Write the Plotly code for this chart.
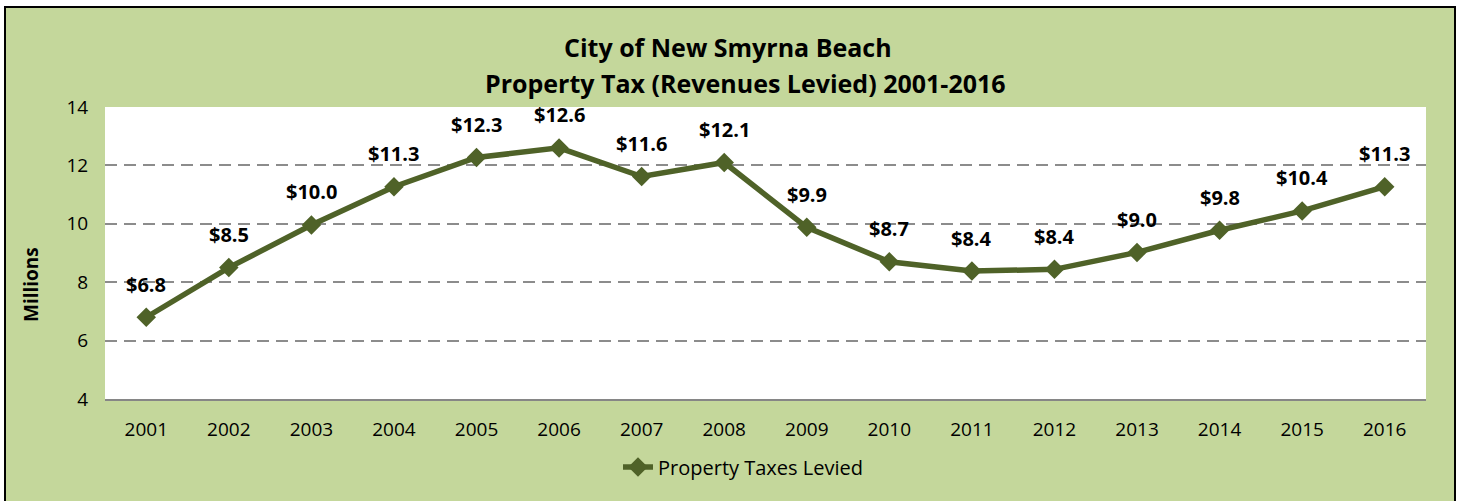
import plotly.graph_objects as go

years = ["2001", "2002", "2003", "2004", "2005", "2006", "2007", "2008",
         "2009", "2010", "2011", "2012", "2013", "2014", "2015", "2016"]
revenues = [6.8, 8.5, 9.96, 11.27, 12.27, 12.6, 11.62, 12.1,
            9.88, 8.7, 8.38, 8.44, 9.02, 9.78, 10.44, 11.27]
series_name = "Property Taxes Levied"
title_line1 = "City of New Smyrna Beach"
title_line2 = "Property Tax (Revenues Levied) 2001-2016"
y_title = "Millions"
y_ticks = [4, 6, 8, 10, 12, 14]

W, H = 1463, 501
L, R, T, B = 105, 37, 107, 102
pw, ph = W - L - R, H - T - B

def px_x(p):
    return (p - L) / pw

def px_y(p):
    return (H - B - p) / ph

GREEN_BG = "#C4D79B"
LINE = "#4F6228"
FONT = "Open Sans"

fig = go.Figure()
fig.add_trace(go.Scatter(
    x=years, y=revenues, name=series_name,
    mode="lines+markers",
    line=dict(color=LINE, width=5.5),
    marker=dict(symbol="diamond", size=15, color=LINE),
    cliponaxis=False,
))

shapes = [
    dict(type="rect", xref="paper", yref="paper",
         x0=px_x(5), x1=px_x(1455), y0=px_y(7), y1=px_y(515),
         fillcolor=GREEN_BG, line=dict(color="#000000", width=2), layer="below"),
    dict(type="rect", xref="paper", yref="paper",
         x0=0, x1=1, y0=0, y1=1,
         fillcolor="#FFFFFF", line=dict(width=0), layer="below"),
]

annotations = [
    dict(text=title_line1, xref="paper", yref="paper", x=px_x(728), y=px_y(47),
         showarrow=False, xanchor="center", yanchor="middle",
         font=dict(family=FONT, size=25, color="#000000", weight="bold")),
    dict(text=title_line2, xref="paper", yref="paper", x=px_x(745), y=px_y(83),
         showarrow=False, xanchor="center", yanchor="middle",
         font=dict(family=FONT, size=25, color="#000000", weight="bold")),
    dict(text=y_title, xref="paper", yref="paper", x=px_x(31), y=px_y(285),
         showarrow=False, xanchor="center", yanchor="middle", textangle=-90,
         font=dict(family=FONT, size=19, color="#000000", weight="bold")),
]

for i, val in enumerate(revenues):
    annotations.append(dict(
        x=i, y=val, xref="x", yref="y", text=f"${val:.1f}",
        showarrow=False, xanchor="center", yanchor="middle", yshift=33,
        font=dict(family=FONT, size=20, color="#000000", weight="bold"),
    ))

fig.update_layout(
    width=W, height=H,
    margin=dict(l=L, r=R, t=T, b=B, pad=0),
    paper_bgcolor="#FFFFFF",
    plot_bgcolor="#FFFFFF",
    shapes=shapes,
    annotations=annotations,
    showlegend=True,
    legend=dict(orientation="h", x=px_x(743), y=px_y(467), xanchor="center", yanchor="middle",
                bgcolor="rgba(0,0,0,0)",
                font=dict(family=FONT, size=20, color="#000000")),
    font=dict(family=FONT, color="#000000"),
)

fig.update_xaxes(
    type="category", range=[-0.5, 15.5],
    showgrid=False, showline=True, linecolor="#868686", linewidth=2,
    ticks="", tickfont=dict(family=FONT, size=19, color="#000000"),
    ticklabelstandoff=12,
)
fig.update_yaxes(
    range=[4, 14], tickvals=y_ticks, ticktext=[str(v) for v in y_ticks],
    showgrid=True, gridcolor="#8C8C8C", gridwidth=2, griddash="12px,7px",
    zeroline=False, showline=False,
    ticks="outside", ticklen=12, tickcolor="rgba(0,0,0,0)",
    tickfont=dict(family=FONT, size=19, color="#000000"),
)

fig.write_html("out.html", config={"displayModeBar": False},
               post_script="document.body.style.margin='0px';")
